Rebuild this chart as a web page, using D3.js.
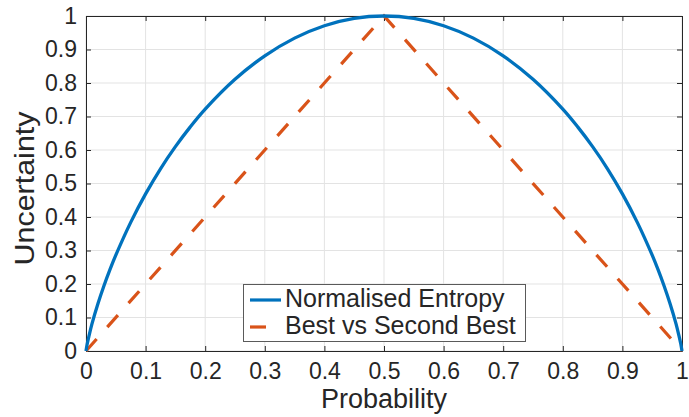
<!DOCTYPE html>
<html>
<head>
<meta charset="utf-8">
<script src="https://cdn.jsdelivr.net/npm/d3@7"></script>
<style>
  html, body { margin: 0; padding: 0; background: #fff; }
  svg { display: block; }
  text { font-family: "Liberation Sans", Arial, Helvetica, sans-serif; fill: #262626; }
</style>
</head>
<body>
<svg id="chart" width="689" height="417"></svg>
<script>
// ---- data ----
const entropyP = [0, 0.002, 0.005, 0.01, 0.02, 0.03, 0.04, 0.05, 0.075, 0.1, 0.125, 0.15, 0.175, 0.2, 0.25, 0.3, 0.35, 0.4, 0.45, 0.5,
                  0.55, 0.6, 0.65, 0.7, 0.75, 0.8, 0.825, 0.85, 0.875, 0.9, 0.925, 0.95, 0.96, 0.97, 0.98, 0.99, 0.995, 0.998, 1];
const entropyU = [0, 0.021, 0.045, 0.081, 0.141, 0.194, 0.242, 0.286, 0.384, 0.469, 0.544, 0.61, 0.669, 0.722, 0.811, 0.881, 0.934, 0.971, 0.993, 1.0,
                  0.993, 0.971, 0.934, 0.881, 0.811, 0.722, 0.669, 0.61, 0.544, 0.469, 0.384, 0.286, 0.242, 0.194, 0.141, 0.081, 0.045, 0.021, 0];
const bsbP = [0, 0.5, 1];
const bsbU = [0, 1, 0];
const xTicks = [0, 0.1, 0.2, 0.3, 0.4, 0.5, 0.6, 0.7, 0.8, 0.9, 1];
const yTicks = [0, 0.1, 0.2, 0.3, 0.4, 0.5, 0.6, 0.7, 0.8, 0.9, 1];
const seriesNames = ["Normalised Entropy", "Best vs Second Best"];
const xLabel = "Probability";
const yLabel = "Uncertainty";

// ---- layout ----
const L = 86, R = 682, T = 16, B = 351;
const svg = d3.select("#chart");
const x = d3.scaleLinear().domain([0, 1]).range([L, R]);
const y = d3.scaleLinear().domain([0, 1]).range([B, T]);
const fmt = d => d3.format("")(d);

// grid
const grid = svg.append("g");
grid.selectAll(".vg").data(xTicks).join("line")
  .attr("x1", d => x(d)).attr("x2", d => x(d)).attr("y1", T).attr("y2", B)
  .attr("stroke", "#e3e3e3").attr("stroke-width", 1);
grid.selectAll(".hg").data(yTicks).join("line")
  .attr("x1", L).attr("x2", R).attr("y1", d => y(d)).attr("y2", d => y(d))
  .attr("stroke", "#e3e3e3").attr("stroke-width", 1);

// axes (ticks inward)
const axisColor = "#262626";
function styleAxis(g) {
  g.select(".domain").attr("stroke", axisColor).attr("stroke-width", 1);
  g.selectAll(".tick line").attr("stroke", axisColor);
}
const xAxis = svg.append("g").attr("transform", `translate(0,${B})`)
  .call(d3.axisBottom(x).tickValues(xTicks).tickFormat(fmt).tickSizeInner(-5).tickSizeOuter(0).tickPadding(12));
styleAxis(xAxis);
xAxis.selectAll(".tick text").attr("font-size", 23).attr("fill", axisColor)
  .attr("font-family", "Liberation Sans, Arial, sans-serif");

const yAxis = svg.append("g").attr("transform", `translate(${L},0)`)
  .call(d3.axisLeft(y).tickValues(yTicks).tickFormat(fmt).tickSizeInner(-5).tickSizeOuter(0).tickPadding(9));
styleAxis(yAxis);
yAxis.selectAll(".tick text").attr("font-size", 23).attr("fill", axisColor)
  .attr("font-family", "Liberation Sans, Arial, sans-serif");

const xTop = svg.append("g").attr("transform", `translate(0,${T})`)
  .call(d3.axisTop(x).tickValues(xTicks).tickFormat("").tickSizeInner(-5).tickSizeOuter(0));
styleAxis(xTop);
const yRight = svg.append("g").attr("transform", `translate(${R},0)`)
  .call(d3.axisRight(y).tickValues(yTicks).tickFormat("").tickSizeInner(-5).tickSizeOuter(0));
styleAxis(yRight);

// axis labels
svg.append("text").attr("x", x(0.5)).attr("y", 408).attr("text-anchor", "middle")
  .attr("font-size", 27).text(xLabel);
svg.append("text").attr("transform", `translate(34,${y(0.5) + 5}) rotate(-90)`)
  .attr("text-anchor", "middle").attr("font-size", 27)
  .attr("textLength", 154).attr("lengthAdjust", "spacingAndGlyphs").text(yLabel);

// data lines
const line = d3.line().x(d => x(d[0])).y(d => y(d[1])).curve(d3.curveCatmullRom.alpha(0.5));
const entropyData = entropyP.map((p, i) => [p, entropyU[i]]);
const bsbData = bsbP.map((p, i) => [p, bsbU[i]]);
const blue = "#0072BD", orange = "#D95319";

svg.append("path").datum(bsbData).attr("d", d3.line().x(d => x(d[0])).y(d => y(d[1])))
  .attr("fill", "none").attr("stroke", orange).attr("stroke-width", 3.2)
  .attr("stroke-dasharray", "16,16");
svg.append("path").datum(entropyData).attr("d", line)
  .attr("fill", "none").attr("stroke", blue).attr("stroke-width", 3.3)
  .attr("stroke-linejoin", "round");

// legend
const lg = svg.append("g");
lg.append("rect").attr("x", 243.5).attr("y", 284.5).attr("width", 282).attr("height", 57)
  .attr("fill", "#fff").attr("stroke", "#5a5a5a").attr("stroke-width", 1);
const rows = [
  { name: seriesNames[0], color: blue, dash: null, y: 300 },
  { name: seriesNames[1], color: orange, dash: "16,16", y: 327 }
];
rows.forEach(r => {
  lg.append("line").attr("x1", 250).attr("x2", 281).attr("y1", r.y).attr("y2", r.y)
    .attr("stroke", r.color).attr("stroke-width", 3.2).attr("stroke-dasharray", r.dash);
  lg.append("text").attr("x", 285).attr("y", r.y + 7).attr("font-size", 25)
    .attr("fill", "#000").text(r.name);
});
</script>
</body>
</html>
